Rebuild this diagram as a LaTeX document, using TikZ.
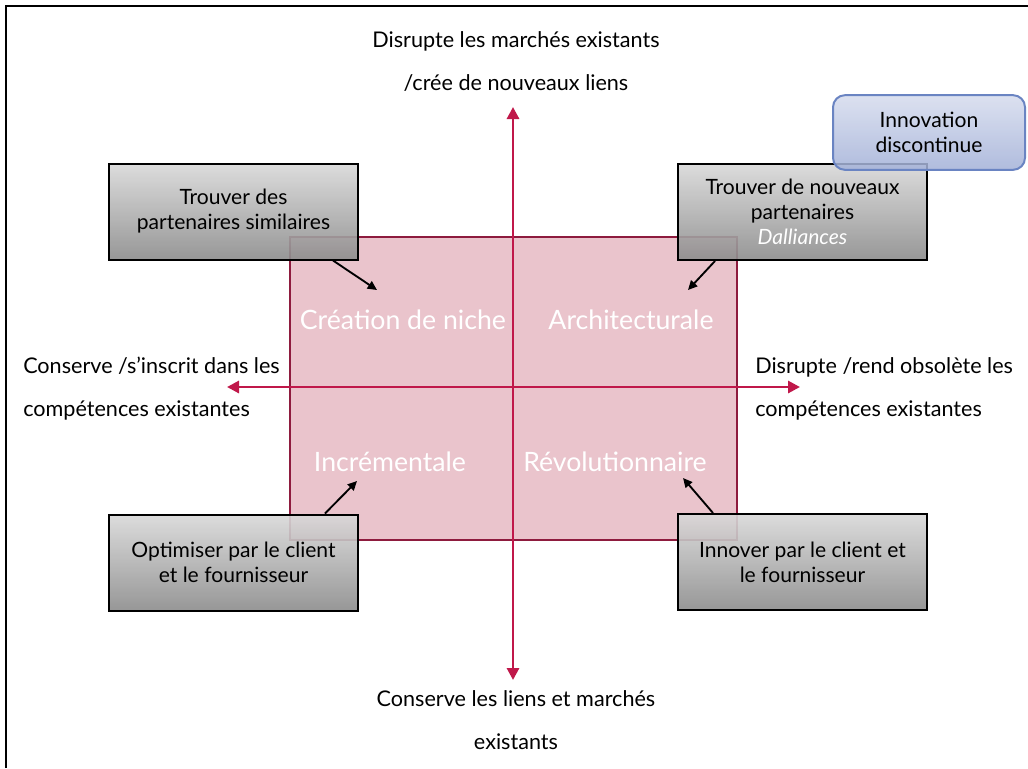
\documentclass[tikz,border=0pt]{standalone}
\usepackage{fontspec}
\setmainfont{Lato}
\usetikzlibrary{arrows.meta}
\definecolor{axiscol}{HTML}{C0184A}
\definecolor{pinkfill}{HTML}{EAC4CC}
\definecolor{pinkedge}{HTML}{8E1B3E}
\definecolor{bluetop}{HTML}{D6DCEE}
\definecolor{bluebot}{HTML}{A3B1D8}
\definecolor{blueedge}{HTML}{6A84C2}
\begin{document}
\begin{tikzpicture}[x=0.75pt,y=-0.75pt,
  lbl/.style={font=\fontsize{16.2}{32.25}\selectfont, inner sep=0pt, text=black},
  quad/.style={font=\fontsize{20}{23}\selectfont, text=white, inner sep=0pt},
  graybox/.style={draw=black, line width=1.5pt, top color=gray!30, bottom color=gray!90,
    fill opacity=0.9, text opacity=1, minimum width=187pt, minimum height=72pt,
    align=center, inner sep=0pt, font=\fontsize{15.8}{18.75}\selectfont},
  bluebox/.style={draw=blueedge, line width=1.5pt, rounded corners=9pt, top color=bluetop,
    bottom color=bluebot, fill opacity=0.85, text opacity=1, minimum width=144pt,
    minimum height=56pt, align=center, inner sep=0pt, font=\fontsize{15.8}{18.75}\selectfont},
  axisarrow/.style={draw=axiscol, line width=2.2pt, {Triangle[length=9pt,width=9pt]}-{Triangle[length=9pt,width=9pt]}},
  blackarrow/.style={draw=black, line width=1.4pt, -{Triangle[length=7pt,width=6.5pt]}}
]
\useasboundingbox (0,0) rectangle (1028,768);
\fill[white] (0,0) rectangle (1028,768);
% frame
\draw[line width=1.5pt] (6,768) -- (6,6) -- (1028,6);

% central square
\node[draw=pinkedge, line width=1.2pt, fill=pinkfill, minimum width=335pt, minimum height=227pt, inner sep=0pt] (sq) at (513.5,388.5) {};

% axes
\coordinate (ytop) at (513,107);
\coordinate (ybot) at (513,680);
\coordinate (xleft) at (227,387);
\coordinate (xright) at (800,387);
\draw[axisarrow] (ybot) -- (ytop);
\draw[axisarrow] (xleft) -- (xright);

% quadrant labels
\node[quad] (q1) at (403,320) {Création de niche};
\node[quad] (q2) at (631,320) {Architecturale};
\node[quad] (q3) at (390,462) {Incrémentale};
\node[quad] (q4) at (615,462) {Révolutionnaire};

% axis labels
\node[lbl, align=center] (lt) at (516,62) {Disrupte les marchés existants\\/crée de nouveaux liens};
\node[lbl, align=center] (lb) at (516,720) {Conserve les liens et marchés\\existants};
\node[lbl, align=left, anchor=west] (ll) at (23,389) {Conserve /s’inscrit dans les\\compétences existantes};
\node[lbl, align=left, anchor=west] (lr) at (755,389) {Disrupte /rend obsolète les\\compétences existantes};

% gray boxes
\node[graybox] (tl) at (233.5,211.5) {Trouver des\\partenaires similaires};
\node[graybox] (tr) at (802.5,212) {Trouver de nouveaux\\partenaires\\{\itshape\color{white}Dalliances}};
\node[graybox] (bl) at (233.5,562.5) {Optimiser par le client\\et le fournisseur};
\node[graybox] (br) at (802.5,562) {Innover par le client et\\le fournisseur};

% arrows
\coordinate (a1) at (377,290);
\coordinate (a2) at (688,290);
\coordinate (a3) at (357,481);
\coordinate (a4) at (683,478);
\draw[blackarrow] (tl.south -| 333,0) -- (a1);
\draw[blackarrow] (tr.south -| 715,0) -- (a2);
\draw[blackarrow] (bl.north -| 325,0) -- (a3);
\draw[blackarrow] (br.north -| 713,0) -- (a4);

% blue box
\node[bluebox] (inn) at (929,132.5) {Innovation\\discontinue};
\end{tikzpicture}
\end{document}
